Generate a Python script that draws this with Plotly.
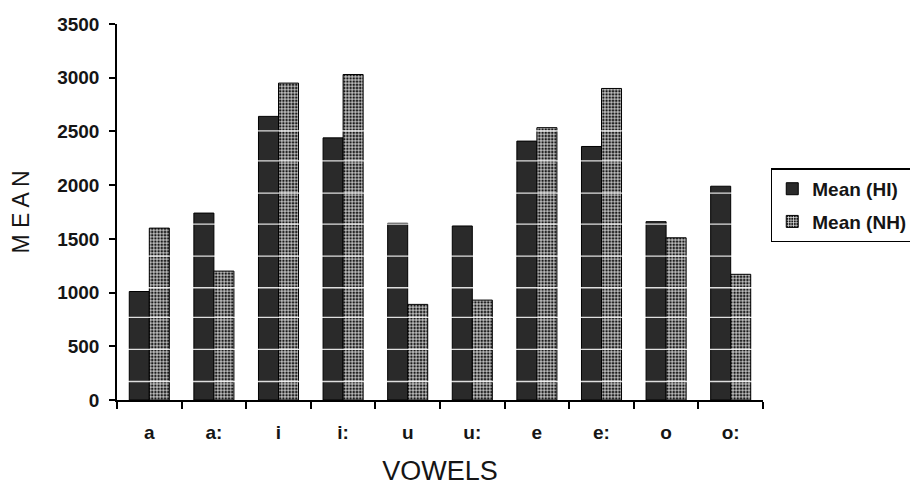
import plotly.graph_objects as go

vowels = ["a", "a:", "i", "i:", "u", "u:", "e", "e:", "o", "o:"]
mean_hi = [1010, 1740, 2640, 2440, 1645, 1620, 2410, 2360, 1660, 1990]
mean_nh = [1600, 1200, 2950, 3030, 890, 930, 2535, 2900, 1510, 1170]
y_ticks = [0, 500, 1000, 1500, 2000, 2500, 3000, 3500]
# faint white scan streaks that cross the bars in the reference
streak_levels = [172, 471, 770, 1045, 1339, 1637, 1926, 2225, 2505]

FONT = "Liberation Sans, Arial, sans-serif"
INK = "#151515"

fig = go.Figure()
fig.add_trace(go.Bar(
    x=vowels, y=mean_hi, name="Mean (HI)", legendgroup="hi",
    marker=dict(color="#2a2a2a", line=dict(color="#000", width=1)),
))
fig.add_trace(go.Bar(
    x=vowels, y=mean_nh, name="Mean (NH)", legendgroup="nh",
    marker=dict(
        color="#1a1a1a",
        line=dict(color="#000", width=1),
        pattern=dict(shape="+", fgcolor="#ffffff", bgcolor="#1a1a1a",
                     size=3.2, solidity=0.4, fillmode="replace"),
    ),
))

shapes = []
for lv in streak_levels:
    shapes.append(dict(type="line", xref="paper", yref="y", x0=0.004, x1=1,
                       y0=lv, y1=lv, line=dict(color="rgba(255,255,255,0.85)", width=1.3),
                       layer="above"))

fig.update_layout(
    width=918, height=486,
    margin=dict(l=109, r=163, t=16, b=94, autoexpand=False),
    paper_bgcolor="white", plot_bgcolor="white",
    barmode="group", bargap=0.38, bargroupgap=0,
    font=dict(family=FONT, color=INK, size=16),
    showlegend=True,
    legend=dict(x=1.012, y=0.616, xanchor="left", yanchor="top",
                bordercolor="#000", borderwidth=1.5, bgcolor="white",
                font=dict(size=19, family=FONT, color=INK, weight="bold"),
                itemwidth=30, traceorder="grouped", tracegroupgap=5),
    shapes=shapes,
)
fig.update_xaxes(
    type="category", showline=True, linecolor="#000", linewidth=1.5,
    ticks="outside", tickson="boundaries", ticklen=7, tickcolor="#000", tickwidth=1.5,
    ticklabelstandoff=14, automargin=False,
    tickfont=dict(size=19, family=FONT, color=INK, weight="bold"),
    title=dict(text="VOWELS", font=dict(size=27, family=FONT, color=INK), standoff=20),
    showgrid=False, zeroline=False,
)
fig.update_yaxes(
    range=[0, 3500], tickvals=y_ticks, ticktext=[str(v) for v in y_ticks],
    showline=True, linecolor="#000", linewidth=1.5,
    ticks="outside", ticklen=6, tickcolor="#000", tickwidth=1.5,
    ticklabelstandoff=6, automargin=False,
    tickfont=dict(size=19, family=FONT, color=INK, weight="bold"),
    title=dict(text="M E A N", font=dict(size=23, family=FONT, color=INK), standoff=25),
    showgrid=False, zeroline=False,
)

fig.write_html("out.html")
